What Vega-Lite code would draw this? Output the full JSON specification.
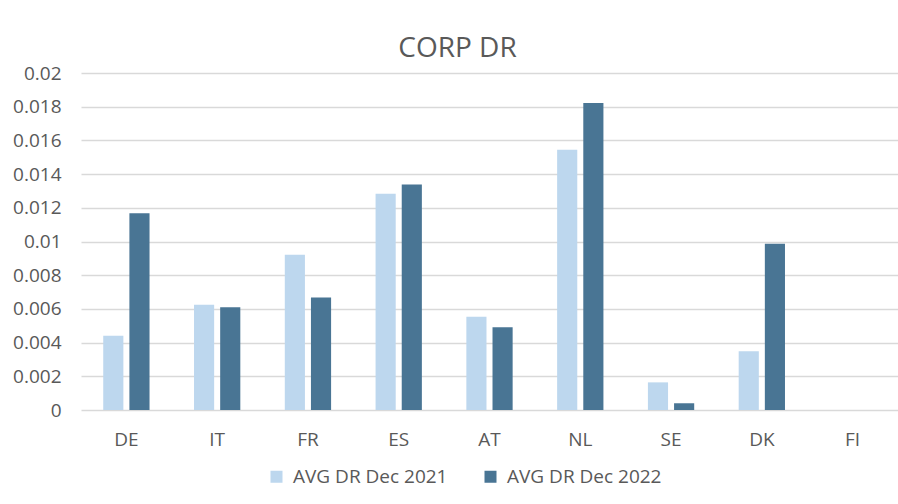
{
  "$schema": "https://vega.github.io/schema/vega-lite/v6.json",
  "autosize": "none",
  "width": 817,
  "height": 337,
  "padding": {"left": 81, "top": 73, "right": 0, "bottom": 94},
  "background": "white",
  "title": {
    "text": "CORP DR",
    "anchor": "middle",
    "dx": -32,
    "dy": 5,
    "font": "Open Sans",
    "fontSize": 28,
    "fontWeight": "normal",
    "color": "#595959",
    "offset": 6
  },
  "data": {
    "values": [
      {"country": "DE", "series": "AVG DR Dec 2021", "value": 0.00441},
      {"country": "DE", "series": "AVG DR Dec 2022", "value": 0.01168},
      {"country": "IT", "series": "AVG DR Dec 2021", "value": 0.00624},
      {"country": "IT", "series": "AVG DR Dec 2022", "value": 0.0061},
      {"country": "FR", "series": "AVG DR Dec 2021", "value": 0.00921},
      {"country": "FR", "series": "AVG DR Dec 2022", "value": 0.00667},
      {"country": "ES", "series": "AVG DR Dec 2021", "value": 0.01283},
      {"country": "ES", "series": "AVG DR Dec 2022", "value": 0.01338},
      {"country": "AT", "series": "AVG DR Dec 2021", "value": 0.00554},
      {"country": "AT", "series": "AVG DR Dec 2022", "value": 0.00491},
      {"country": "NL", "series": "AVG DR Dec 2021", "value": 0.01544},
      {"country": "NL", "series": "AVG DR Dec 2022", "value": 0.01822},
      {"country": "SE", "series": "AVG DR Dec 2021", "value": 0.00164},
      {"country": "SE", "series": "AVG DR Dec 2022", "value": 0.0004},
      {"country": "DK", "series": "AVG DR Dec 2021", "value": 0.00349},
      {"country": "DK", "series": "AVG DR Dec 2022", "value": 0.00986},
      {"country": "FI", "series": "AVG DR Dec 2021", "value": 0},
      {"country": "FI", "series": "AVG DR Dec 2022", "value": 0}
    ]
  },
  "mark": {"type": "bar"},
  "encoding": {
    "x": {
      "field": "country",
      "type": "nominal",
      "sort": ["DE", "IT", "FR", "ES", "AT", "NL", "SE", "DK", "FI"],
      "scale": {"paddingInner": 0.49, "paddingOuter": 0.245},
      "axis": {
        "title": null,
        "labelAngle": 0,
        "ticks": false,
        "domain": false,
        "labelPadding": 20,
        "labelFont": "Open Sans",
        "labelFontSize": 19,
        "labelColor": "#595959"
      }
    },
    "xOffset": {
      "field": "series",
      "type": "nominal",
      "scale": {"paddingInner": 0.23, "paddingOuter": 0}
    },
    "y": {
      "field": "value",
      "type": "quantitative",
      "scale": {"domain": [0, 0.02], "nice": false},
      "axis": {
        "title": null,
        "values": [0, 0.002, 0.004, 0.006, 0.008, 0.01, 0.012, 0.014, 0.016, 0.018, 0.02],
        "format": "~f",
        "ticks": false,
        "domain": false,
        "grid": true,
        "gridColor": "#d9d9d9",
        "gridWidth": 1.5,
        "labelPadding": 20,
        "labelFont": "Open Sans",
        "labelFontSize": 19,
        "labelColor": "#595959"
      }
    },
    "color": {
      "field": "series",
      "type": "nominal",
      "scale": {"range": ["#BDD7EE", "#497594"]},
      "legend": {
        "title": null,
        "orient": "none",
        "direction": "horizontal",
        "legendX": 186,
        "legendY": 394,
        "symbolType": "square",
        "symbolSize": 144,
        "symbolStrokeWidth": 0,
        "symbolOpacity": 1,
        "labelFont": "Open Sans",
        "labelFontSize": 19,
        "labelColor": "#595959",
        "labelOffset": 7,
        "columnPadding": 33
      }
    }
  },
  "config": {
    "view": {"stroke": null}
  }
}
